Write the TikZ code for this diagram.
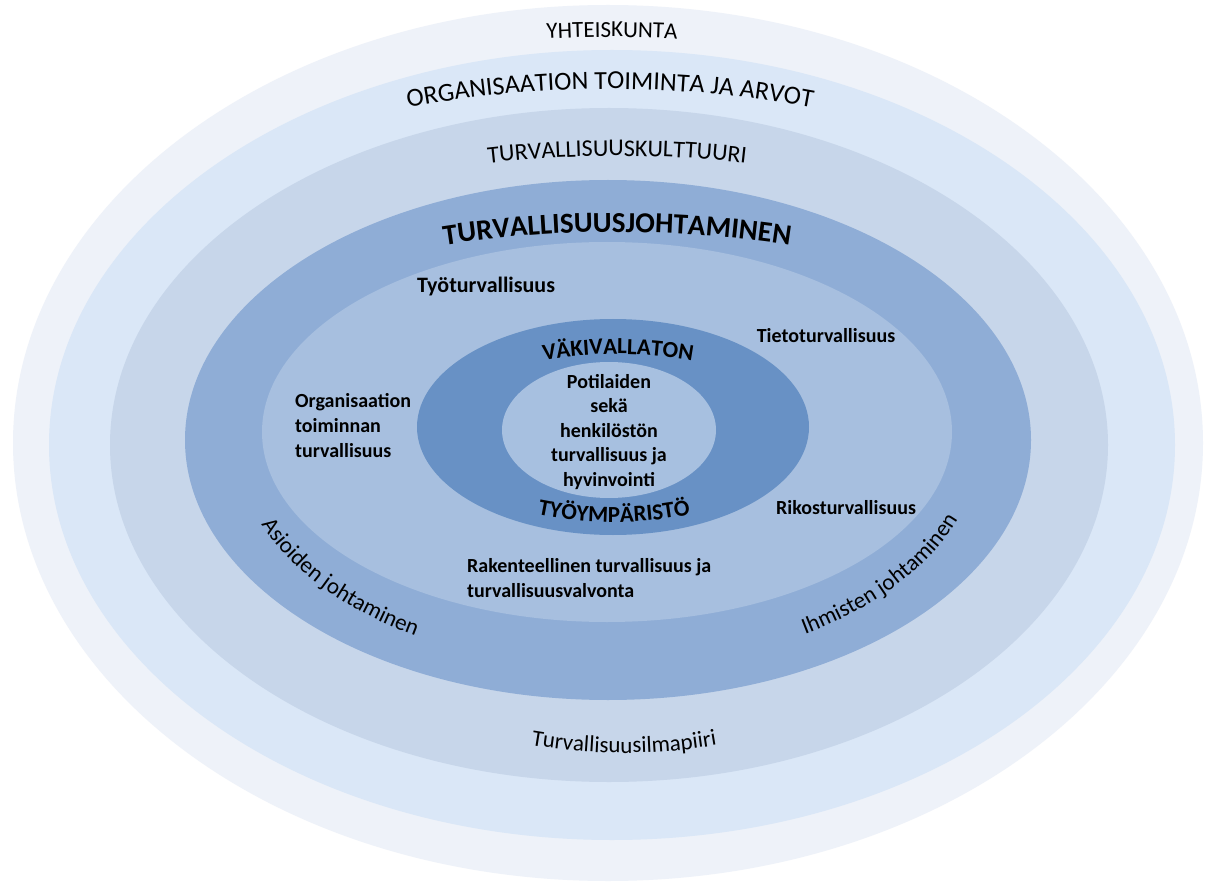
\documentclass[tikz,border=0pt]{standalone}
\usepackage{fontspec}
\setmainfont{Carlito}
\usetikzlibrary{decorations.text}
\definecolor{ringA}{HTML}{EEF2F9}
\definecolor{ringB}{HTML}{DAE7F7}
\definecolor{ringC}{HTML}{C7D6EA}
\definecolor{ringD}{HTML}{8FADD6}
\definecolor{ringE}{HTML}{A7BFDF}
\definecolor{ringF}{HTML}{6891C5}
\definecolor{ringG}{HTML}{A7C0E0}
\tikzset{
  lbl/.style={font=\bfseries\fontsize{20}{25}\selectfont, inner sep=0pt, text=black},
  arctext/.style={decorate},
}
\begin{document}
\begin{tikzpicture}[x=1pt,y=1pt]
\fill[white] (0,0) rectangle (1205,-885);
\useasboundingbox (0,0) rectangle (1205,-885);
% rings
\fill[ringA] (608,-443) ellipse[x radius=595,y radius=438];
\fill[ringB] (612,-445) ellipse[x radius=563,y radius=395];
\fill[ringC] (609,-445) ellipse[x radius=499,y radius=337];
\fill[ringD] (608,-440) ellipse[x radius=423,y radius=260];
\fill[ringE] (607,-432) ellipse[x radius=345,y radius=190];
\fill[ringF] (613,-427) ellipse[x radius=196,y radius=108];
\fill[ringG] (609,-430) ellipse[x radius=107,y radius=68];
% arched titles
\path[arctext, decoration={text along path, text align=center,
  text={|\fontsize{23}{26}\selectfont|YHTEISKUNTA}}]
  ([shift={(100:1150)}]612,-1187) arc[start angle=100, end angle=80, radius=1150];
\path[arctext, decoration={text along path, text align=center,
  text={|\fontsize{26}{30}\selectfont|ORGANISAATION TOIMINTA JA ARVOT}}]
  ([shift={(105:1100)}]610,-1189) arc[start angle=105, end angle=75, radius=1100];
\path[arctext, decoration={text along path, text align=center,
  text={|\fontsize{24}{28}\selectfont|TURVALLISUUSKULTTUURI}}]
  ([shift={(100:1150)}]617,-1306) arc[start angle=100, end angle=80, radius=1150];
\path[arctext, decoration={text along path, text align=center,
  text={|\bfseries\fontsize{29}{32}\selectfont|TURVALLISUUSJOHTAMINEN}}]
  ([shift={(105:1150)}]617,-1382) arc[start angle=105, end angle=75, radius=1150];
\path[arctext, decoration={text along path, text align=center,
  text={|\bfseries\fontsize{23}{26}\selectfont|VÄKIVALLATON}}]
  ([shift={(115:420)}]618,-774) arc[start angle=115, end angle=65, radius=420];
\path[arctext, decoration={text along path, text align=center,
  text={|\bfseries\fontsize{23}{26}\selectfont|TYÖYMPÄRISTÖ}}]
  ([shift={(245:380)}]614,-142) arc[start angle=245, end angle=295, radius=380];
\path[arctext, decoration={text along path, text align=center,
  text={|\fontsize{23}{26}\selectfont|Turvallisuusilmapiiri}}]
  ([shift={(250:550)}]624,-203) arc[start angle=250, end angle=290, radius=550];
\path[arctext, decoration={text along path, text align=center,
  text={|\fontsize{23}{26}\selectfont|Asioiden johtaminen}}]
  ([shift={(190:373 and 229)}]608,-440) arc[start angle=190, end angle=247, x radius=373, y radius=229];
\path[arctext, decoration={text along path, text align=center,
  text={|\fontsize{23}{26}\selectfont|Ihmisten johtaminen}}]
  ([shift={(294:373 and 229)}]608,-440) arc[start angle=294, end angle=351, x radius=373, y radius=229];
% labels
\node[lbl, font=\bfseries\fontsize{22}{26}\selectfont] (tyo) at (486,-287) {Työturvallisuus};
\node[lbl] (tieto) at (826,-336) {Tietoturvallisuus};
\node[lbl, align=left, anchor=west] (org) at (295,-426) {Organisaation\\toiminnan\\turvallisuus};
\node[lbl] (riko) at (846,-508) {Rikosturvallisuus};
\node[lbl, align=left, anchor=west] (rak) at (467,-578) {Rakenteellinen turvallisuus ja\\turvallisuusvalvonta};
\node[lbl, align=center, font=\bfseries\fontsize{20}{24.5}\selectfont] (core) at (609,-432) {Potilaiden\\sekä\\henkilöstön\\turvallisuus ja\\hyvinvointi};
\end{tikzpicture}
\end{document}
